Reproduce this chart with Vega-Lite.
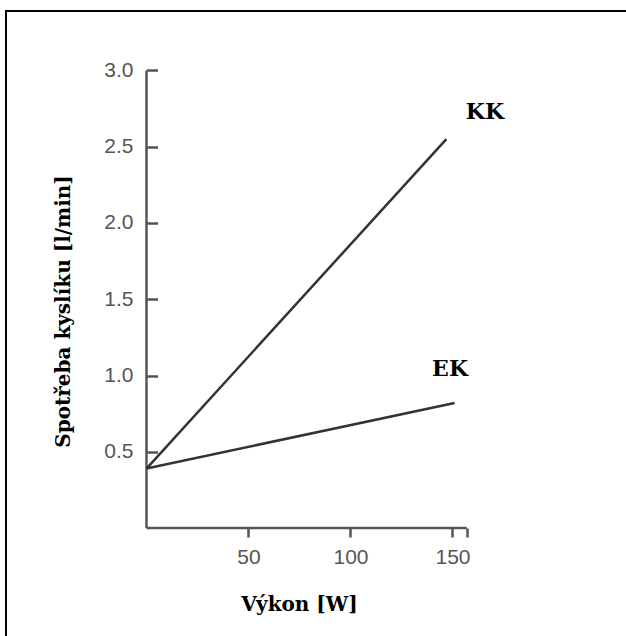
{
  "$schema": "https://vega.github.io/schema/vega-lite/v6.json",
  "autosize": "none",
  "width": 620,
  "height": 625,
  "padding": {"left": 6, "top": 11, "right": 0, "bottom": 0},
  "background": "#ffffff",
  "config": {
    "view": {"stroke": "#000000", "strokeWidth": 2, "strokeDash": [620, 1245, 626, 1]}
  },
  "datasets": {
    "axes": [
      {"x": 0, "x2": 157, "y": 0, "y2": 0},
      {"x": 0, "x2": 0, "y": 0, "y2": 3}
    ],
    "lines": [
      {"series": "KK", "power": 0, "oxygen": 0.39},
      {"series": "KK", "power": 147, "oxygen": 2.55},
      {"series": "EK", "power": 0, "oxygen": 0.39},
      {"series": "EK", "power": 151, "oxygen": 0.82}
    ],
    "labels": [
      {"label": "KK", "power": 165.9, "oxygen": 2.73},
      {"label": "EK", "power": 148.8, "oxygen": 1.04}
    ]
  },
  "resolve": {"axis": {"y": "independent"}, "scale": {"y": "shared", "x": "shared"}},
  "layer": [
    {
      "data": {"name": "axes"},
      "mark": {"type": "rule", "color": "#555555", "strokeWidth": 2.5},
      "encoding": {
        "x": {
          "field": "x", "type": "quantitative",
          "scale": {"domain": [-68.87, 235.05], "nice": false, "zero": false},
          "axis": {
            "orient": "bottom", "offset": -108, "values": [50, 100, 150, 157],
            "labelExpr": "datum.value > 155 ? '' : datum.label",
            "domain": false, "grid": false,
            "tickSize": 9, "tickWidth": 2.5, "tickColor": "#555555",
            "labelPadding": 9, "labelFont": "Liberation Sans", "labelFontSize": 21, "labelColor": "#555555",
            "title": "Výkon [W]", "titleFont": "DejaVu Serif", "titleFontSize": 20, "titleFontWeight": "bold",
            "titleColor": "#000000", "titleX": 293, "titleY": 82, "titleBaseline": "alphabetic", "titleAlign": "center"
          }
        },
        "x2": {"field": "x2"},
        "y": {
          "field": "y", "type": "quantitative",
          "scale": {"domain": [-0.708, 3.39], "nice": false, "zero": false},
          "axis": {
            "orient": "left", "offset": -140.5, "values": [0.5, 1, 1.5, 2, 2.5, 3], "format": ".1f",
            "domain": false, "grid": false, "ticks": false, "tickSize": 0,
            "labelPadding": 13.5, "labelFont": "Liberation Sans", "labelFontSize": 21, "labelColor": "#555555",
            "title": "Spotřeba kyslíku [l/min]", "titleFont": "DejaVu Serif", "titleFontSize": 20, "titleFontWeight": "bold",
            "titleColor": "#000000", "titleX": -83.5, "titleY": 300, "titleAngle": -90, "titleAlign": "center", "titleBaseline": "middle"
          }
        },
        "y2": {"field": "y2"}
      }
    },
    {
      "data": {"name": "lines"},
      "mark": {"type": "line", "color": "#333333", "strokeWidth": 2.5},
      "encoding": {
        "x": {"field": "power", "type": "quantitative"},
        "y": {
          "field": "oxygen", "type": "quantitative",
          "axis": {
            "orient": "right", "offset": -479.5, "values": [0.5, 1, 1.5, 2, 2.5, 3],
            "domain": false, "grid": false, "labels": false,
            "tickSize": 11, "tickWidth": 2.5, "tickColor": "#555555", "title": null
          }
        },
        "detail": {"field": "series"}
      }
    },
    {
      "data": {"name": "labels"},
      "mark": {"type": "text", "font": "DejaVu Serif", "fontWeight": "bold", "fontSize": 22, "color": "#000000", "align": "center", "baseline": "middle"},
      "encoding": {
        "x": {"field": "power", "type": "quantitative"},
        "y": {"field": "oxygen", "type": "quantitative", "axis": null},
        "text": {"field": "label"}
      }
    }
  ]
}
